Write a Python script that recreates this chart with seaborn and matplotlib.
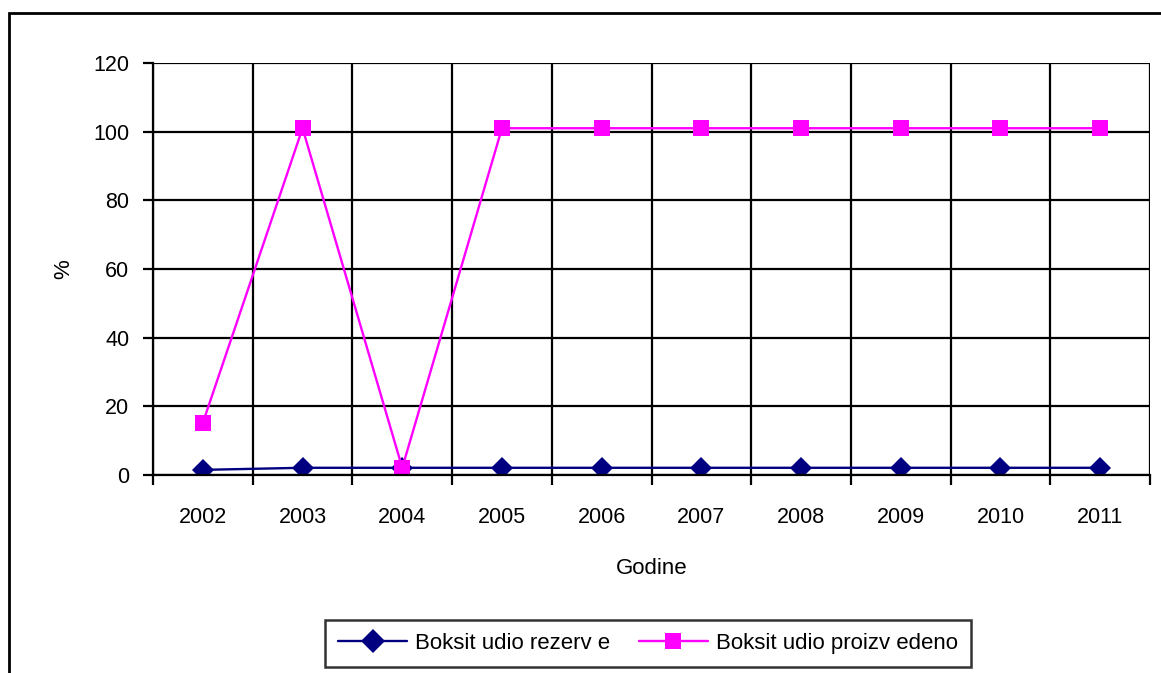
import pandas as pd
import seaborn as sns
import matplotlib.pyplot as plt
from matplotlib.patches import Rectangle

godine = ["2002", "2003", "2004", "2005", "2006", "2007", "2008", "2009", "2010", "2011"]
rezerve = [1.5, 2.1, 2.1, 2.1, 2.1, 2.1, 2.1, 2.1, 2.1, 2.1]
proizvedeno = [15.2, 101, 2.1, 101, 101, 101, 101, 101, 101, 101]
nazivi = ["Boksit udio rezerv e", "Boksit udio proizv edeno"]

sns.set_theme(style="white")
plt.rcParams['font.family'] = ['Liberation Sans', 'DejaVu Sans']
plt.rcParams['text.color'] = 'black'
plt.rcParams['axes.labelcolor'] = 'black'
plt.rcParams['xtick.color'] = 'black'
plt.rcParams['ytick.color'] = 'black'

df = pd.DataFrame({
    "Godine": godine * 2,
    "val": rezerve + proizvedeno,
    "serija": [nazivi[0]] * len(godine) + [nazivi[1]] * len(godine),
})

fig = plt.figure(figsize=(11.61, 6.73), dpi=100)
ax = fig.add_axes([153 / 1161, 1 - 475 / 673, (1150 - 153) / 1161, (475 - 63) / 673])

sns.lineplot(data=df, x="Godine", y="val", hue="serija", style="serija",
             palette=["#000080", "#FF00FF"], markers=["D", "s"], dashes=False,
             markersize=11.5, markeredgewidth=0, linewidth=1.7, ax=ax, sort=False)

ax.set_xlim(-0.5, len(godine) - 0.5)
ax.set_ylim(0, 120)
ax.set_yticks(range(0, 121, 20))
ax.set_xticks(range(len(godine)))
ax.set_xticks([i - 0.5 for i in range(len(godine) + 1)], minor=True)
ax.tick_params(axis="x", which="major", length=0, pad=23, labelsize=15.5, labelcolor="black")
ax.tick_params(axis="x", which="minor", length=7, width=1.6, direction="out", bottom=True, color="black")
ax.tick_params(axis="y", length=7, width=1.6, direction="out", left=True, pad=10, labelsize=15.5,
               color="black", labelcolor="black")
ax.grid(True, axis="y", which="major", color="black", linewidth=1.6)
ax.grid(True, axis="x", which="minor", color="black", linewidth=1.6)
for s in ax.spines.values():
    s.set_color("black")
    s.set_linewidth(1.6)
ax.spines["top"].set_visible(False)
ax.spines["right"].set_visible(False)

ax.set_xlabel("Godine", fontsize=16, labelpad=22, color="black")
ax.set_ylabel("%", fontsize=16, labelpad=14, color="black")

leg = ax.legend(loc="center", bbox_to_anchor=(648 / 1161, 1 - 643.5 / 673),
                bbox_transform=fig.transFigure, ncol=2, fontsize=16, frameon=True,
                fancybox=False, edgecolor="black", borderpad=0.6, handlelength=3.1,
                columnspacing=1.3, handletextpad=0.35, borderaxespad=0)
leg.get_frame().set_linewidth(1.8)
for t in leg.get_texts():
    t.set_color("black")
for h in leg.legend_handles:
    h.set_markersize(12)

fig.patches.append(Rectangle((9 / 1161, -0.1), 1.2, 1 - 13 / 673 + 0.1,
                             transform=fig.transFigure, fill=False,
                             edgecolor="black", linewidth=2))

fig.savefig("out.png", dpi=100)
